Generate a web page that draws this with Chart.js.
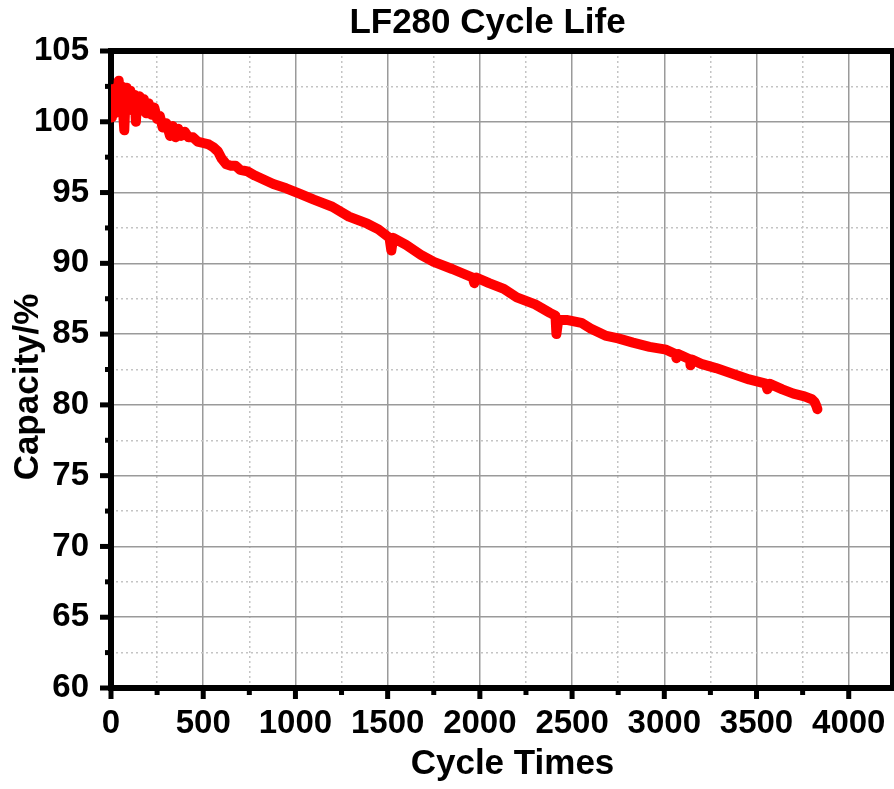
<!DOCTYPE html>
<html>
<head>
<meta charset="utf-8">
<script src="https://cdn.jsdelivr.net/npm/chart.js@4/dist/chart.umd.min.js"></script>
<style>
body{margin:0;background:#fff}
</style>
</head>
<body>
<canvas id="grafico" width="894" height="789"></canvas>
<script>

let titulo = "LF280 Cycle Life"
let tituloX = "Cycle Times"
let tituloY = "Capacity/%"

let ticksX = [0,500,1000,1500,2000,2500,3000,3500,4000]
let ticksY = [60,65,70,75,80,85,90,95,100,105]

let ciclos = [0,5,10,15,20,28,35,42,50,58,65,72,78,85,95,105,115,128,135,142,155,165,178,190,205,220,235,250,265,280,300,320,335,350,365,380,400,420,445,470,500,530,555,580,600,625,650,675,700,740,780,830,880,950,1025,1100,1200,1290,1390,1450,1510,1520,1530,1600,1680,1750,1850,1960,1970,1980,2050,2130,2200,2300,2380,2410,2415,2425,2470,2550,2600,2680,2750,2830,2920,3010,3060,3066,3075,3140,3142,3150,3200,3280,3370,3460,3550,3559,3570,3640,3700,3760,3800,3815,3825,3830]

let capacidade = [100.3,102.3,100.5,102.0,100.6,102.4,101.0,102.9,101.2,102.5,100.8,99.4,101.5,102.4,101.0,102.2,100.8,101.9,100.0,101.5,101.8,100.8,101.6,100.6,101.3,100.5,101.0,100.2,100.4,99.6,99.9,99.0,99.7,98.9,99.5,99.0,99.3,98.9,98.9,98.6,98.5,98.4,98.2,97.9,97.4,97.0,96.9,96.9,96.6,96.5,96.2,95.9,95.6,95.3,94.9,94.5,94.0,93.3,92.8,92.4,91.8,90.9,91.8,91.3,90.6,90.1,89.6,89.0,88.6,89.0,88.6,88.2,87.6,87.1,86.5,86.3,85.0,86.0,86.0,85.8,85.4,84.9,84.7,84.4,84.1,83.9,83.6,83.3,83.6,83.2,82.8,83.2,82.9,82.6,82.2,81.8,81.5,81.1,81.5,81.1,80.8,80.6,80.4,80.2,79.9,79.7]

let fonte = '"Liberation Sans", Arial, sans-serif'

let pontos = ciclos.map((c, i) => ({x: c, y: capacidade[i]}))

function comMenores(lista){
let saida = []
lista.forEach((v, i) => {
saida.push({value: v})
if(i < lista.length - 1){
saida.push({value: (v + lista[i + 1]) / 2})
}
})
return saida
}

let moldura = {
id: "moldura",
beforeDatasetsDraw(chart){
let ctx = chart.ctx
let a = chart.chartArea
let sx = chart.scales.x
let sy = chart.scales.y
ctx.save()
ctx.fillStyle = "#000"
sx.ticks.forEach(t => {
let p = sx.getPixelForValue(t.value)
let len = ticksX.includes(t.value) ? 11 : 7
ctx.fillRect(p - 2.5, a.bottom, 5, len)
})
sy.ticks.forEach(t => {
let p = sy.getPixelForValue(t.value)
let len = ticksY.includes(t.value) ? 11 : 6
ctx.fillRect(a.left - len, p - 2.5, len, 5)
})
ctx.lineWidth = 6
ctx.strokeStyle = "#000"
ctx.strokeRect(a.left, a.top, a.right - a.left, a.bottom - a.top)
ctx.restore()
},
afterDraw(chart){
let ctx = chart.ctx
ctx.save()
ctx.fillStyle = "#000"
ctx.font = "bold 35px " + fonte
ctx.textAlign = "center"
ctx.textBaseline = "alphabetic"
ctx.fillText(titulo, 487.5, 33)
ctx.fillText(tituloX, 512.5, 774)
ctx.translate(38, 387)
ctx.rotate(-Math.PI / 2)
ctx.fillText(tituloY, 0, 0)
ctx.restore()
}
}

let grafico = new Chart(document.getElementById("grafico"), {
type: "line",
data: {
datasets: [{
data: pontos,
borderColor: "#ff0000",
borderWidth: 10,
pointRadius: 0,
tension: 0,
fill: false,
borderJoinStyle: "round",
borderCapStyle: "round"
}]
},
options: {
responsive: false,
devicePixelRatio: 1,
animation: false,
layout: {padding: {top: 51, right: 1, left: 0, bottom: 0}},
plugins: {legend: {display: false}, tooltip: {enabled: false}},
scales: {
x: {
type: "linear",
min: 0,
max: 4240,
afterBuildTicks: s => { s.ticks = comMenores(ticksX) },
afterFit: s => { s.height = 101; s.paddingLeft = 0; s.paddingRight = 0 },
grid: {
drawTicks: false,
color: c => ticksX.includes(c.tick.value) ? "#9a9a9a" : "#c4c4c4",
lineWidth: 1.5
},
border: {display: false, dash: c => ticksX.includes(c.tick.value) ? [] : [2, 3]},
ticks: {
autoSkip: false,
maxRotation: 0,
padding: 16,
color: "#000",
font: {family: fonte, size: 33, weight: "bold"},
callback: v => ticksX.includes(v) ? String(v) : ""
}
},
y: {
type: "linear",
min: 60,
max: 105,
afterBuildTicks: s => { s.ticks = comMenores(ticksY) },
afterFit: s => { s.width = 111; s.paddingTop = 0; s.paddingBottom = 0 },
grid: {
drawTicks: false,
color: c => ticksY.includes(c.tick.value) ? "#9a9a9a" : "#c4c4c4",
lineWidth: 1.5
},
border: {display: false, dash: c => ticksY.includes(c.tick.value) ? [] : [2, 3]},
ticks: {
autoSkip: false,
padding: 22,
color: "#000",
font: {family: fonte, size: 33, weight: "bold"},
callback: v => ticksY.includes(v) ? String(v) : ""
}
}
}
},
plugins: [moldura]
})

</script>
</body>
</html>
